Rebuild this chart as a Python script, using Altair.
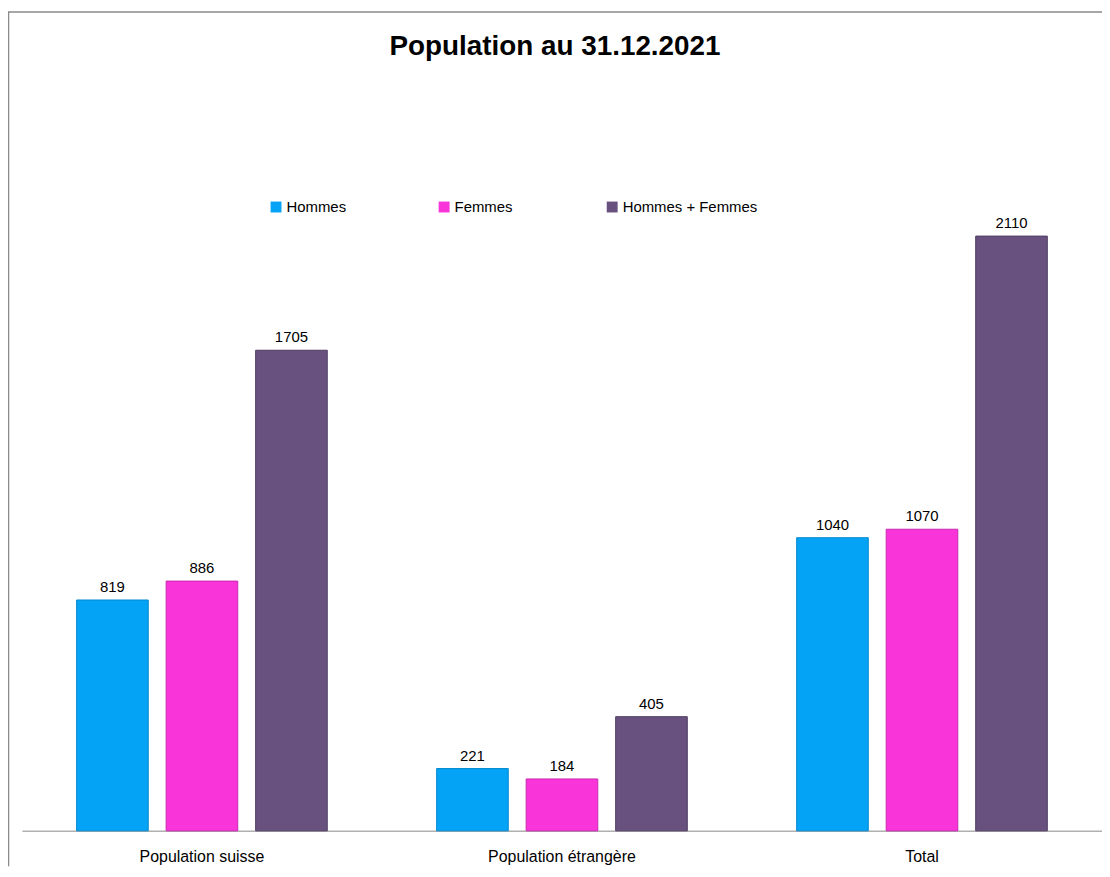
import altair as alt
import pandas as pd

categories = ["Population suisse", "Population étrangère", "Total"]
series = ["Hommes", "Femmes", "Hommes + Femmes"]
hommes = [819, 221, 1040]
femmes = [886, 184, 1070]
hommes_femmes = [1705, 405, 2110]
colors = ["#04A3F6", "#F934D8", "#68517F"]
edge_colors = ["#0388CC", "#C928AF", "#4E3C61"]

rows = []
for i, c in enumerate(categories):
    for s, vals in zip(series, [hommes, femmes, hommes_femmes]):
        rows.append({"cat": c, "serie": s, "value": vals[i]})
df = pd.DataFrame(rows)

FONT = "Liberation Sans"
W, H = 1100, 859

x_enc = alt.X(
    "cat:N",
    sort=categories,
    scale=alt.Scale(range=[14, 1100], paddingInner=0, paddingOuter=0),
    axis=alt.Axis(
        title=None, orient="bottom", offset=-35, ticks=False, labelPadding=18,
        labelFontSize=16, labelColor="#000000", labelFont=FONT, labelAngle=0,
        domainColor="#b0b0b0", domainWidth=1.5, grid=False,
    ),
)
xoff_enc = alt.XOffset("serie:N", sort=series,
                       scale=alt.Scale(paddingInner=0.2, paddingOuter=0.611))
y_enc = alt.Y(
    "value:Q",
    scale=alt.Scale(domain=[-123.5, 2907.4], nice=False, zero=False),
    axis=alt.Axis(title=None, labels=False, ticks=False, grid=False,
                  domain=True, domainColor="#8a8a8a", domainWidth=1.5),
)

bars = alt.Chart(df).mark_bar(strokeWidth=1).encode(
    x=x_enc,
    xOffset=xoff_enc,
    y=y_enc,
    y2=alt.Y2(datum=0),
    color=alt.Color(
        "serie:N",
        sort=series,
        scale=alt.Scale(domain=series, range=colors),
        legend=alt.Legend(
            orient="none", legendX=262, legendY=189, direction="horizontal",
            columns=3, title=None, symbolType="square", symbolSize=120,
            symbolStrokeWidth=0, labelFontSize=15, labelFont=FONT,
            labelColor="#000000", labelOffset=3, columnPadding=15,
            gridAlign="all", padding=0, labelLimit=300,
        ),
    ),
    stroke=alt.Stroke("serie:N", scale=alt.Scale(domain=series, range=edge_colors), legend=None),
)

labels = alt.Chart(df).mark_text(
    baseline="alphabetic", dy=-8, fontSize=15, font=FONT, color="#000000"
).encode(
    x=alt.X("cat:N", sort=categories),
    xOffset=alt.XOffset("serie:N", sort=series),
    y=alt.Y("value:Q"),
    text=alt.Text("value:Q"),
)

frame_top = alt.Chart(pd.DataFrame({"a": [0]})).mark_rule(
    color="#8a8a8a", strokeWidth=1.5
).encode(x=alt.value(0), x2=alt.value(W + 2), y=alt.value(0.75))

chart = alt.layer(bars, labels, frame_top).properties(
    width=W,
    height=H,
    background="white",
    autosize=alt.AutoSizeParams(type="none"),
    padding={"left": 0, "top": 1, "right": 0, "bottom": 0},
    title=alt.TitleParams(
        "Population au 31.12.2021", font=FONT, fontSize=28, fontWeight="bold",
        color="#000000", anchor="middle", frame="group", offset=-72,
        baseline="alphabetic",
    ),
).configure_view(strokeWidth=0, stroke="transparent")

chart.save("out.html", embed_options={"renderer": "svg", "actions": False})
